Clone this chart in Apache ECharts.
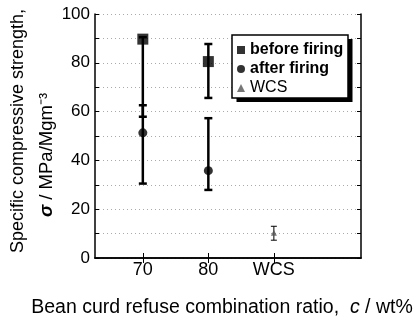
<!DOCTYPE html>
<html>
<head>
<meta charset="utf-8">
<script src="https://cdn.jsdelivr.net/npm/echarts@6/dist/echarts.min.js"></script>
<style>
  html, body { margin: 0; padding: 0; background: #fff; }
  #chart { width: 417px; height: 323px; }
</style>
</head>
<body>
<div id="chart"></div>
<script>
// categories sit at x = 1, 2, 3
const categories = ['70', '80', 'WCS']
const catPos = [1, 2, 3]

const beforeMean = [89.7, 80.5]
const beforeLow = [57.9, 65.6]
const beforeHigh = [90.5, 87.7]

const afterMean = [51.3, 35.8]
const afterLow = [30.5, 27.9]
const afterHigh = [62.6, 57.3]

const wcsMean = [10.3]
const wcsLow = [7.3]
const wcsHigh = [13.0]

const yTicks = [0, 20, 40, 60, 80, 100]

function errData(pos, lo, hi) {
  return lo.map((v, i) => [pos[i], v, hi[i]])
}

function errorSeries(data, width, cap) {
  return {
    type: 'custom',
    data: data,
    z: 3,
    renderItem: function (params, api) {
      const lo = api.coord([api.value(0), api.value(1)])
      const hi = api.coord([api.value(0), api.value(2)])
      const style = { stroke: '#000', lineWidth: width }
      return {
        type: 'group',
        children: [
          { type: 'line', shape: { x1: lo[0], y1: lo[1], x2: hi[0], y2: hi[1] }, style: style },
          { type: 'line', shape: { x1: lo[0] - cap, y1: lo[1], x2: lo[0] + cap, y2: lo[1] }, style: style },
          { type: 'line', shape: { x1: hi[0] - cap, y1: hi[1], x2: hi[0] + cap, y2: hi[1] }, style: style }
        ]
      }
    }
  }
}

const font = 'Liberation Sans, Arial, sans-serif'

const chart = echarts.init(document.getElementById('chart'))
chart.setOption({
  animation: false,
  grid: { left: 95, top: 14, right: 56, bottom: 56 },
  graphic: [
    {
      type: 'text',
      x: 18,
      y: 131,
      rotation: Math.PI / 2,
      style: {
        text: 'Specific compressive strength,',
        fontFamily: font, fontSize: 18, fill: '#000',
        align: 'center', verticalAlign: 'middle'
      }
    },
    {
      type: 'text',
      x: 47,
      y: 155,
      rotation: Math.PI / 2,
      style: {
        text: '{i|σ} / MPa/Mgm⁻³',
        fontFamily: font, fontSize: 18.5, fill: '#000',
        align: 'center', verticalAlign: 'middle',
        rich: { i: { fontFamily: font, fontSize: 18.5, fontStyle: 'italic', fontWeight: 'bold', fill: '#000' } }
      }
    },
    // legend frame with a solid drop shadow
    {
      type: 'rect',
      z: 10,
      shape: { x: 236.5, y: 39, width: 116, height: 63 },
      style: { fill: '#000' }
    },
    {
      type: 'rect',
      z: 11,
      shape: { x: 232, y: 35, width: 116, height: 63 },
      style: { fill: '#fff', stroke: '#000', lineWidth: 1.5 }
    }
  ],
  legend: {
    orient: 'vertical',
    left: 232,
    top: 35,
    z: 12,
    padding: [7, 4, 4, 5],
    itemGap: 3,
    itemWidth: 8,
    itemHeight: 8,
    textStyle: { fontFamily: font, fontSize: 16, color: '#000' },
    data: [
      { name: 'before firing', icon: 'rect', textStyle: { fontWeight: 'bold' } },
      { name: 'after firing', icon: 'circle', textStyle: { fontWeight: 'bold' } },
      { name: 'WCS', icon: 'triangle', itemStyle: { color: '#555' } }
    ]
  },
  xAxis: [
    {
      type: 'value',
      min: 0.27,
      max: 4.33,
      name: 'Bean curd refuse combination ratio,  {i|c} / wt%',
      nameLocation: 'middle',
      nameGap: 40,
      nameTextStyle: {
        fontFamily: font, fontSize: 19.5, color: '#000', padding: [0, 12, 0, 0],
        rich: { i: { fontFamily: font, fontSize: 19.5, fontStyle: 'italic', color: '#000' } }
      },
      splitLine: { show: false },
      axisLine: { lineStyle: { color: '#000', width: 1.5 } },
      axisTick: { inside: true, length: 5, customValues: catPos, lineStyle: { color: '#000' } },
      axisLabel: {
        customValues: catPos,
        formatter: v => categories[catPos.indexOf(Math.round(v))] || '',
        fontFamily: font, fontSize: 18, color: '#000', margin: 3
      }
    },
    {
      type: 'value',
      position: 'top',
      min: 0.27,
      max: 4.33,
      splitLine: { show: false },
      axisLine: { show: true, lineStyle: { color: '#000', width: 1.5 } },
      axisTick: { inside: true, length: 5, customValues: catPos, lineStyle: { color: '#000' } },
      axisLabel: { show: false }
    }
  ],
  yAxis: [
    {
      type: 'value',
      min: 0,
      max: 100,
      interval: 10,
      axisLine: { show: true, lineStyle: { color: '#000', width: 1.5 } },
      axisTick: { inside: true, length: 4, lineStyle: { color: '#000' } },
      splitLine: { show: true, lineStyle: { color: '#aaa', type: [1, 3], width: 1 } },
      axisLabel: {
        customValues: yTicks,
        fontFamily: font, fontSize: 17, color: '#000', margin: 5
      }
    },
    {
      type: 'value',
      position: 'right',
      min: 0,
      max: 100,
      interval: 10,
      axisLine: { show: true, lineStyle: { color: '#000', width: 1.5 } },
      axisTick: { inside: true, length: 4, lineStyle: { color: '#000' } },
      splitLine: { show: false },
      axisLabel: { show: false }
    }
  ],
  series: [
    errorSeries(errData(catPos.slice(0, 2), beforeLow, beforeHigh), 2.5, 4),
    errorSeries(errData(catPos.slice(0, 2), afterLow, afterHigh), 2.5, 4),
    errorSeries(errData(catPos.slice(2), wcsLow, wcsHigh), 1, 3),
    {
      name: 'before firing',
      type: 'scatter',
      symbol: 'rect',
      symbolSize: 11,
      itemStyle: { color: '#000' },
      z: 4,
      data: beforeMean.map((v, i) => [catPos[i], v])
    },
    {
      name: 'after firing',
      type: 'scatter',
      symbol: 'circle',
      symbolSize: 9,
      itemStyle: { color: '#000' },
      z: 4,
      data: afterMean.map((v, i) => [catPos[i], v])
    },
    {
      name: 'WCS',
      type: 'scatter',
      symbol: 'triangle',
      symbolSize: 6,
      itemStyle: { color: '#555' },
      z: 4,
      data: wcsMean.map((v, i) => [catPos[2 + i], v])
    }
  ]
})
</script>
</body>
</html>
